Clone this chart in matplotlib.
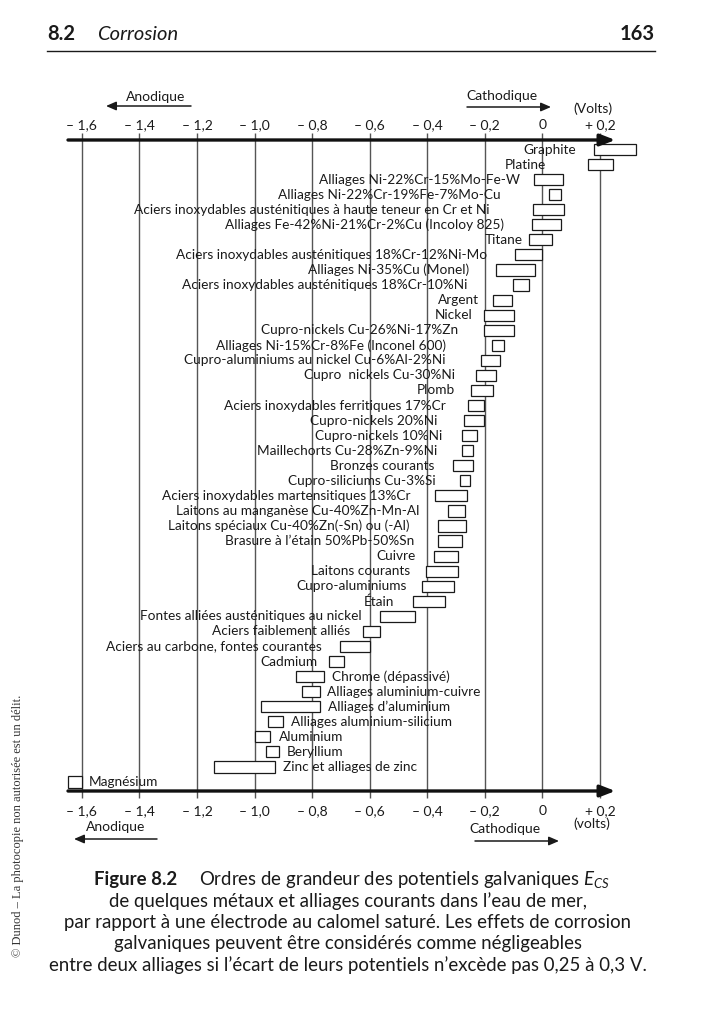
import matplotlib.pyplot as plt
from matplotlib.patches import FancyArrowPatch

W, H = 707, 1024

names = [
    "Graphite",
    "Platine",
    "Alliages Ni-22%Cr-15%Mo-Fe-W",
    "Alliages Ni-22%Cr-19%Fe-7%Mo-Cu",
    "Aciers inoxydables austénitiques à haute teneur en Cr et Ni",
    "Alliages Fe-42%Ni-21%Cr-2%Cu (Incoloy 825)",
    "Titane",
    "Aciers inoxydables austénitiques 18%Cr-12%Ni-Mo",
    "Alliages Ni-35%Cu (Monel)",
    "Aciers inoxydables austénitiques 18%Cr-10%Ni",
    "Argent",
    "Nickel",
    "Cupro-nickels Cu-26%Ni-17%Zn",
    "Alliages Ni-15%Cr-8%Fe (Inconel 600)",
    "Cupro-aluminiums au nickel Cu-6%Al-2%Ni",
    "Cupro  nickels Cu-30%Ni",
    "Plomb",
    "Aciers inoxydables ferritiques 17%Cr",
    "Cupro-nickels 20%Ni",
    "Cupro-nickels 10%Ni",
    "Maillechorts Cu-28%Zn-9%Ni",
    "Bronzes courants",
    "Cupro-siliciums Cu-3%Si",
    "Aciers inoxydables martensitiques 13%Cr",
    "Laitons au manganèse Cu-40%Zn-Mn-Al",
    "Laitons spéciaux Cu-40%Zn(-Sn) ou (-Al)",
    "Brasure à l’étain 50%Pb-50%Sn",
    "Cuivre",
    "Laitons courants",
    "Cupro-aluminiums",
    "Étain",
    "Fontes alliées austénitiques au nickel",
    "Aciers faiblement alliés",
    "Aciers au carbone, fontes courantes",
    "Cadmium",
    "Chrome (dépassivé)",
    "Alliages aluminium-cuivre",
    "Alliages d’aluminium",
    "Alliages aluminium-silicium",
    "Aluminium",
    "Beryllium",
    "Zinc et alliages de zinc",
    "Magnésium",
]

# potential range of each material, volts vs SCE
e_min = [
    0.179, 0.158, -0.029, 0.023, -0.033, -0.036, -0.048, -0.095, -0.160, -0.102,
    -0.172, -0.203, -0.203, -0.176, -0.215, -0.232, -0.247, -0.259, -0.274, -0.278,
    -0.278, -0.309, -0.288, -0.373, -0.327, -0.362, -0.362, -0.376, -0.403, -0.417,
    -0.448, -0.566, -0.624, -0.703, -0.741, -0.855, -0.834, -0.979, -0.954, -1.000,
    -0.959, -1.140, -1.647,
]
e_max = [
    0.325, 0.247, 0.070, 0.065, 0.075, 0.065, 0.035, 0.000, -0.026, -0.048,
    -0.104, -0.099, -0.099, -0.132, -0.147, -0.160, -0.172, -0.203, -0.203, -0.228,
    -0.241, -0.240, -0.250, -0.262, -0.268, -0.264, -0.278, -0.293, -0.293, -0.306,
    -0.337, -0.441, -0.566, -0.600, -0.691, -0.759, -0.774, -0.773, -0.901, -0.945,
    -0.914, -0.928, -1.600,
]

# where each name is anchored (volts); right of the box for the last ones
label_at = [
    0.117, 0.014, -0.079, -0.144, -0.185, -0.135, -0.067, -0.191, -0.253, -0.259,
    -0.222, -0.243, -0.293, -0.334, -0.336, -0.305, -0.305, -0.336, -0.364, -0.349,
    -0.367, -0.375, -0.371, -0.460, -0.429, -0.462, -0.445, -0.440, -0.460, -0.473,
    -0.514, -0.629, -0.669, -0.768, -0.783, -0.731, -0.749, -0.745, -0.874, -0.917,
    -0.888, -0.901, -1.578,
]

ticks = [-1.6, -1.4, -1.2, -1.0, -0.8, -0.6, -0.4, -0.2, 0.0, 0.2]
tick_labels = ["– 1,6", "– 1,4", "– 1,2", "– 1,0", "– 0,8", "– 0,6",
               "– 0,4", "– 0,2", "0", "+ 0,2"]

caption_head = "Figure 8.2"
caption_first = "Ordres de grandeur des potentiels galvaniques $E_{CS}$"
caption_rest = [
    "de quelques métaux et alliages courants dans l’eau de mer,",
    "par rapport à une électrode au calomel saturé. Les effets de corrosion",
    "galvaniques peuvent être considérés comme négligeables",
    "entre deux alliages si l’écart de leurs potentiels n’excède pas 0,25 à 0,3 V.",
]

plt.rcParams["font.family"] = ["Lato", "DejaVu Sans"]
plt.rcParams["mathtext.fontset"] = "custom"
plt.rcParams["mathtext.rm"] = "Lato"
plt.rcParams["mathtext.it"] = "Lato:italic"
plt.rcParams["mathtext.bf"] = "Lato:bold"

INK = "#1a1a1a"
GRID = "#555555"


def fx(x):
    return x / W


def fy(y):
    return 1 - y / H


fig = plt.figure(figsize=(W / 100, H / 100), dpi=100)
fig.patch.set_facecolor("white")

# chart area in pixels
x0, x1 = 68, 612
y0, y1 = 140, 791
ax = fig.add_axes([fx(x0), fy(y1), (x1 - x0) / W, (y1 - y0) / H])
px_per_v = 287.8
zero_px = 542.4
row_px = 15.06
first_row = 149.5
ax.set_xlim((x0 - zero_px) / px_per_v, (x1 - zero_px) / px_per_v)
ax.set_ylim((y1 - first_row) / row_px, (y0 - first_row) / row_px)
for s in ax.spines.values():
    s.set_visible(False)
ax.set_yticks([])
ax.set_xticks(ticks)
ax.tick_params(axis="x", direction="out", length=5, width=1.0, color=GRID,
               top=True, bottom=True, labeltop=False, labelbottom=False)
for t in ticks:
    ax.axvline(t, color=GRID, lw=1.0, zorder=1)

rows = list(range(len(names)))
widths = [b - a for a, b in zip(e_min, e_max)]
bars = ax.barh(rows, widths, left=e_min, height=0.74, color="white",
               edgecolor=INK, linewidth=0.9, zorder=3)
for b in bars:
    b.set_clip_on(False)

for i, name in enumerate(names):
    right_side = label_at[i] > e_max[i]
    ax.text(label_at[i], i, name, ha="left" if right_side else "right",
            va="center", fontsize=9.8, color=INK, zorder=4)

# axis lines with arrow heads
for yy in (1.0, 0.0):
    ax.annotate("", xy=(1.006, yy), xytext=(0.0, yy), xycoords="axes fraction",
                arrowprops=dict(arrowstyle="-|>,head_length=0.9,head_width=0.35",
                                lw=2.4, color="#111111", shrinkA=0, shrinkB=0),
                annotation_clip=False, zorder=5)

tr = ax.get_xaxis_transform()
for t, lab in zip(ticks, tick_labels):
    ax.text(t, (y1 - 125) / (y1 - y0), lab, transform=tr, ha="center",
            va="center", fontsize=10, color=INK)
    ax.text(t, (y1 - 811) / (y1 - y0), lab, transform=tr, ha="center",
            va="center", fontsize=10, color=INK)


def side_arrow(text, tx, ty, xa, xb, ya):
    fig.text(fx(tx), fy(ty), text, ha="center", va="center", fontsize=10,
             color=INK)
    fig.add_artist(FancyArrowPatch(
        (fx(xa), fy(ya)), (fx(xb), fy(ya)), transform=fig.transFigure,
        arrowstyle="-|>,head_length=6,head_width=2.6", lw=1.1, color=INK,
        shrinkA=0, shrinkB=0))


side_arrow("Anodique", 156, 97, 191, 106, 106)
side_arrow("Cathodique", 502, 96, 467, 551, 107)
fig.text(fx(593), fy(109), "(Volts)", ha="center", va="center", fontsize=10,
         color=INK)
side_arrow("Anodique", 116, 827, 157, 74, 839)
side_arrow("Cathodique", 505, 829, 475, 559, 841)
fig.text(fx(592), fy(824), "(volts)", ha="center", va="center", fontsize=10,
         color=INK)

# page header
fig.text(fx(47), fy(34), "8.2", ha="left", va="center", fontsize=14.5,
         fontweight="bold", color=INK)
fig.text(fx(97), fy(34), "Corrosion", ha="left", va="center", fontsize=14.5,
         fontstyle="italic", color=INK)
fig.text(fx(655), fy(34), "163", ha="right", va="center", fontsize=14.5,
         fontweight="bold", color=INK)
fig.add_artist(plt.Line2D([fx(47), fx(655)], [fy(51), fy(51)],
                          transform=fig.transFigure, color=INK, lw=1.0))

# caption
cap_size = 13.4
r = fig.canvas.get_renderer()
t1 = fig.text(0, fy(880), caption_head, ha="left", va="center",
              fontsize=cap_size, fontweight="bold", color=INK)
t2 = fig.text(0, fy(880), caption_first, ha="left", va="center",
              fontsize=cap_size, color=INK)
w1 = t1.get_window_extent(r).width
w2 = t2.get_window_extent(r).width
gap = 22
start = 352 - (w1 + gap + w2) / 2
t1.set_x(fx(start))
t2.set_x(fx(start + w1 + gap))
for k, line in enumerate(caption_rest):
    fig.text(fx(348), fy(901.5 + 21.2 * k), line, ha="center", va="center",
             fontsize=cap_size, color=INK)

fig.text(fx(18), fy(826), "© Dunod – La photocopie non autorisée est un délit.",
         rotation=90, ha="center", va="center", fontsize=9,
         family=["Liberation Serif", "DejaVu Serif"], color="#333333")

fig.savefig("out.png", dpi=100, facecolor="white")
